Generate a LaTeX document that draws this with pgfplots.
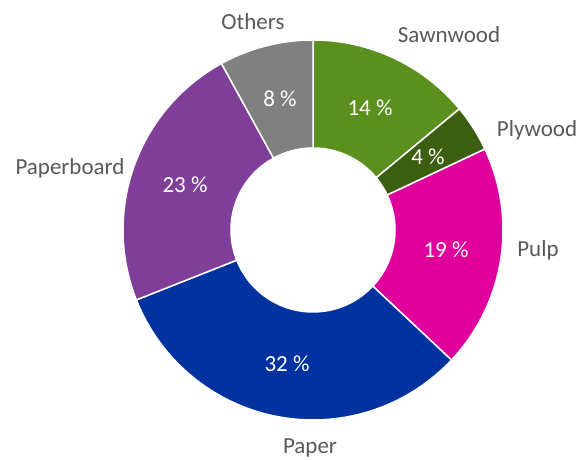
\documentclass[border=0pt]{standalone}
\usepackage{pgfplots}
\pgfplotsset{compat=1.18}
\usepackage{fontspec}
\setmainfont{Carlito}
\definecolor{sawn}{HTML}{5B8F1E}
\definecolor{ply}{HTML}{3B5E10}
\definecolor{pulp}{HTML}{E0009B}
\definecolor{paper}{HTML}{0033A0}
\definecolor{board}{HTML}{7F3F98}
\definecolor{others}{HTML}{808080}
\definecolor{txt}{HTML}{595959}
\def\RR{190}
\def\rr{82}
\tikzset{lab/.style={font=\fontsize{23bp}{27bp}\selectfont, inner sep=0pt}}
% slice: start percent, end percent, colour
\newcommand\slice[3]{%
\addplot[fill=#3, draw=white, line width=1.5pt, domain=0:2, samples=101, variable=\t]
 ({(\t<1.01 ? \RR : \rr)*cos(90-3.6*(#1+(#2-#1)*(\t<1.01 ? \t : min(1,(2-\t)*50/49))))},
  {(\t<1.01 ? \RR : \rr)*sin(90-3.6*(#1+(#2-#1)*(\t<1.01 ? \t : min(1,(2-\t)*50/49))))}) -- cycle;}
\begin{document}
\begin{tikzpicture}
\begin{axis}[
  hide axis, scale only axis, width=579bp, height=460bp,
  xmin=-313, xmax=266, ymin=-230, ymax=230,
  clip=false,
]
\path (axis cs:-313,-230) rectangle (axis cs:266,230);
% values: Sawnwood 14, Plywood 4, Pulp 19, Paper 32, Paperboard 23, Others 8
\slice{0}{14}{sawn}
\slice{14}{18}{ply}
\slice{18}{37}{pulp}
\slice{37}{69}{paper}
\slice{69}{92}{board}
\slice{92}{100}{others}
% percent labels
\node[lab, white] at (axis cs:57,122) {14 \%};
\node[lab, white] at (axis cs:115,73) {4 \%};
\node[lab, white] at (axis cs:133,-20) {19 \%};
\node[lab, white] at (axis cs:-26,-134) {32 \%};
\node[lab, white] at (axis cs:-128,45) {23 \%};
\node[lab, white] at (axis cs:-33,131) {8 \%};
% category labels
\node[lab, txt] at (axis cs:136,195) {Sawnwood};
\node[lab, txt] at (axis cs:224,100) {Plywood};
\node[lab, txt] at (axis cs:225,-20) {Pulp};
\node[lab, txt] at (axis cs:-3,-218) {Paper};
\node[lab, txt] at (axis cs:-243,62) {Paperboard};
\node[lab, txt] at (axis cs:-60,208) {Others};
\end{axis}
\end{tikzpicture}
\end{document}
